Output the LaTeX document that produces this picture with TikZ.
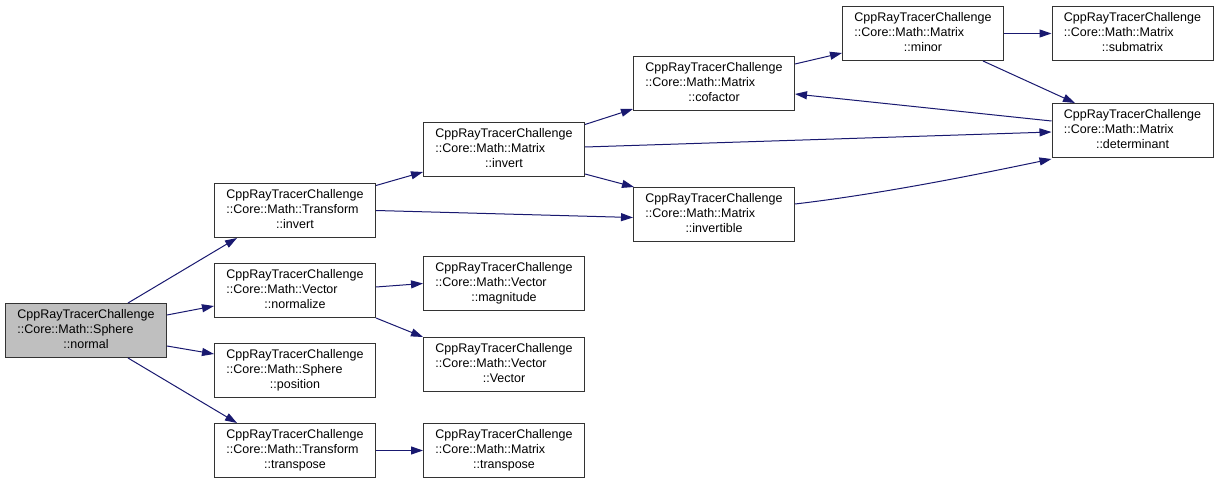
\documentclass[tikz,border=0pt]{standalone}
\usepackage{fontspec}
\setmainfont{Liberation Sans}
\usetikzlibrary{arrows.meta}
\definecolor{edgeblue}{HTML}{191970}
\definecolor{nodegray}{HTML}{BFBFBF}
\definecolor{boxline}{HTML}{333333}
\newcommand{\lbl}[2]{\begin{tabular}{@{}l@{}}CppRayTracerChallenge\\#1\\\multicolumn{1}{@{}c@{}}{#2}\end{tabular}}
\begin{document}
\begin{tikzpicture}[x=1pt,y=-1pt,
  fn/.style={draw=boxline, line width=1pt, fill=white, minimum width=161pt, minimum height=54pt, inner sep=0pt, font=\fontsize{12.5}{15}\selectfont},
  call/.style={draw=edgeblue, line width=1pt, -{Triangle[length=12pt,width=8pt]}}]
\useasboundingbox[fill=white] (0,0) rectangle (1219,484);

\node[fn, fill=nodegray] (normal) at (86,330.5) {\lbl{::Core::Math::Sphere}{::normal}};
\node[fn] (tinv) at (295,210.5) {\lbl{::Core::Math::Transform}{::invert}};
\node[fn] (norm) at (295,290.5) {\lbl{::Core::Math::Vector}{::normalize}};
\node[fn] (pos) at (295,370.5) {\lbl{::Core::Math::Sphere}{::position}};
\node[fn] (ttr) at (295,450.5) {\lbl{::Core::Math::Transform}{::transpose}};
\node[fn] (minv) at (504,149.5) {\lbl{::Core::Math::Matrix}{::invert}};
\node[fn] (mag) at (504,283.5) {\lbl{::Core::Math::Vector}{::magnitude}};
\node[fn] (vec) at (504,364.5) {\lbl{::Core::Math::Vector}{::Vector}};
\node[fn] (mtr) at (504,450.5) {\lbl{::Core::Math::Matrix}{::transpose}};
\node[fn] (cof) at (714,84) {\lbl{::Core::Math::Matrix}{::cofactor}};
\node[fn] (invb) at (714,214.5) {\lbl{::Core::Math::Matrix}{::invertible}};
\node[fn] (minor) at (923,33.5) {\lbl{::Core::Math::Matrix}{::minor}};
\node[fn] (sub) at (1132.5,33.5) {\lbl{::Core::Math::Matrix}{::submatrix}};
\node[fn] (det) at (1132.5,130.5) {\lbl{::Core::Math::Matrix}{::determinant}};

\draw[call] ([xshift=42pt]normal.north) -- ([xshift=-58pt]tinv.south);
\draw[call] ([yshift=15.5pt]normal.east) -- ([yshift=-15.5pt]norm.west);
\draw[call] ([yshift=-15.5pt]normal.east) -- ([yshift=16.5pt]pos.west);
\draw[call] ([xshift=42pt]normal.south) -- ([xshift=-58pt]ttr.north);
\draw[call] ([yshift=25pt]tinv.east) -- ([yshift=-22.5pt]minv.west);
\draw[call] (tinv.east) -- ([yshift=-3pt]invb.west);
\draw[call] ([yshift=3.5pt]norm.east) -- (mag.west);
\draw[call] (norm.south east) -- (vec.north west);
\draw[call] (ttr.east) -- (mtr.west);
\draw[call] ([yshift=25pt]minv.east) -- ([yshift=-25pt]cof.west);
\draw[call] ([yshift=2.5pt]minv.east) -- ([yshift=-1.5pt]det.west);
\draw[call] ([yshift=-24.5pt]minv.east) -- ([xshift=1pt]invb.north west);
\draw[call] ([yshift=20pt]cof.east) -- ([yshift=-19.5pt]minor.west);
\draw[call] ([yshift=9.5pt]det.west) -- ([yshift=-10pt]cof.east);
\draw[call] (minor.east) -- (sub.west);
\draw[call] ([xshift=60pt]minor.south) -- ([xshift=-57.5pt]det.north);
\draw[call] ([yshift=10.5pt]invb.east) .. controls (880,194) and (970,176) .. ([yshift=-1pt]det.south west);
\end{tikzpicture}
\end{document}
